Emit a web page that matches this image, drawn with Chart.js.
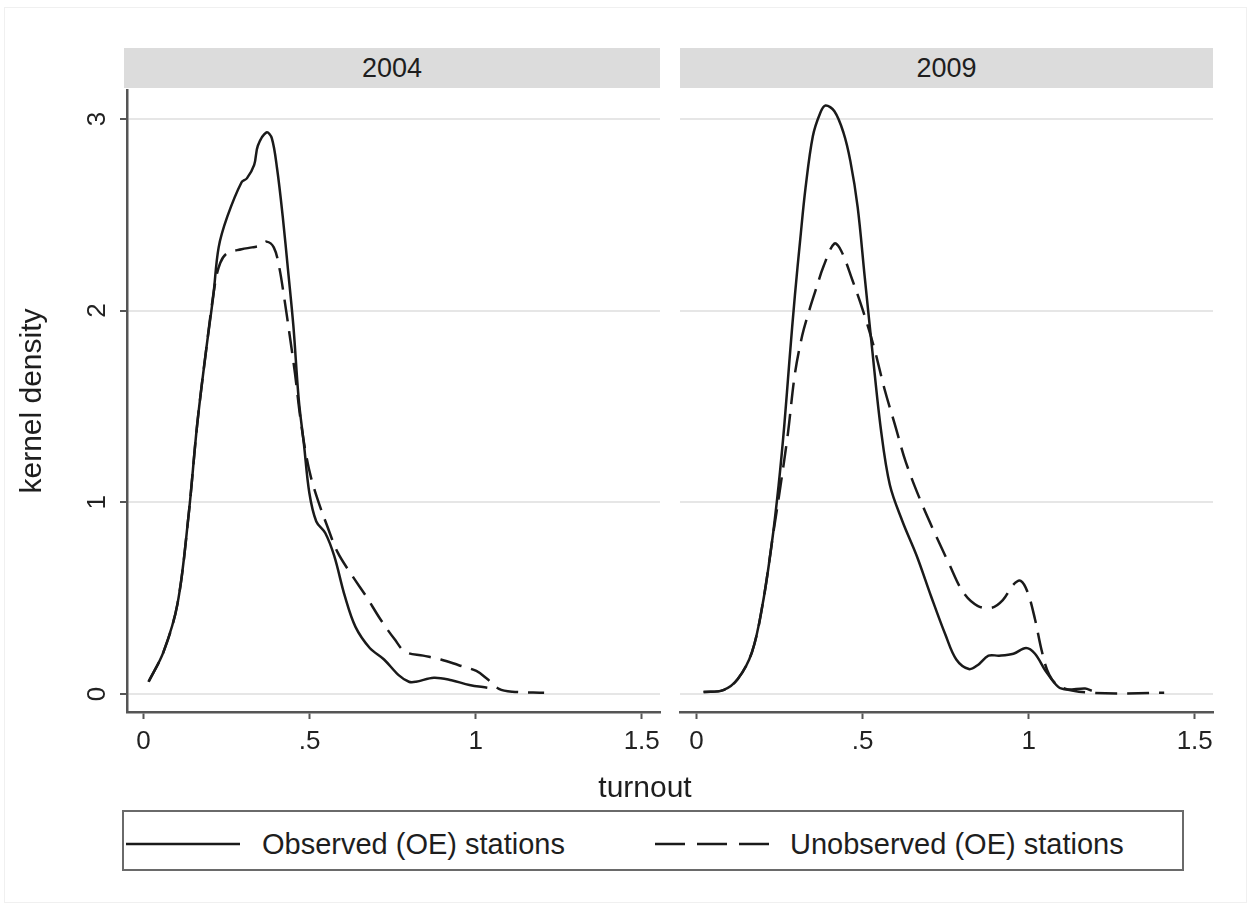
<!DOCTYPE html>
<html><head><meta charset="utf-8">
<script src="https://cdn.jsdelivr.net/npm/chart.js@4.4.1/dist/chart.umd.min.js"></script>
<style>
body{margin:0;background:#fff;width:1252px;height:909px;overflow:hidden;font-family:"Liberation Sans",Arial,Helvetica,sans-serif;color:#1e1e1e;position:relative}
.abs{position:absolute}
.frame{left:4px;top:7px;width:1243px;height:896px;border:1px solid #f0f0f0;box-sizing:border-box}
.strip{top:48px;height:40px;background:#dcdcdc;font-size:27px;line-height:41px;text-align:center}
.xt{left:0;width:1290px;top:768px;font-size:30px;text-align:center;line-height:38px}
.legend{left:122px;top:810px;width:1062px;height:61px;border:2px solid #6a6a6a;box-sizing:border-box}
.lt{font-size:29px;line-height:30px;top:17px}
</style></head>
<body>
<div class="abs frame"></div>
<div class="abs strip" style="left:124px;width:536px">2004</div>
<div class="abs strip" style="left:680px;width:533px">2009</div>
<div class="abs" style="left:0;top:80px;width:700px;height:700px"><canvas id="c1"></canvas></div>
<div class="abs" style="left:640px;top:80px;width:640px;height:700px"><canvas id="c2"></canvas></div>
<div class="abs xt" id="xtitle">turnout</div>
<div class="abs legend">
  <svg class="abs" style="left:2px;top:29px" width="116" height="6"><line x1="0" y1="3" x2="114" y2="3" stroke="#1a1a1a" stroke-width="2.5"/></svg>
  <div class="abs lt" style="left:138px">Observed (OE) stations</div>
  <svg class="abs" style="left:531px;top:29px" width="120" height="6"><line x1="0" y1="3" x2="118" y2="3" stroke="#1a1a1a" stroke-width="2.5" stroke-dasharray="30,12"/></svg>
  <div class="abs lt" style="left:666px">Unobserved (OE) stations</div>
</div>
<script>
// ---- data ----
const panels = ["2004", "2009"];
const seriesNames = ["Observed (OE) stations", "Unobserved (OE) stations"];
const xTicks = [0, 0.5, 1, 1.5];
const xTickLabels = ["0", ".5", "1", "1.5"];
const yTicks = [0, 1, 2, 3];

const obs2004X = [0.015,0.06,0.102,0.135,0.161,0.188,0.21,0.226,0.252,0.295,0.311,0.333,0.344,0.37,0.386,0.402,0.419,0.435,0.451,0.467,0.483,0.499,0.52,0.547,0.574,0.606,0.638,0.681,0.724,0.767,0.799,0.82,0.874,0.927,0.981,1.035];
const obs2004Y = [0.064,0.22,0.47,0.925,1.40,1.79,2.08,2.33,2.49,2.67,2.69,2.76,2.86,2.93,2.90,2.74,2.49,2.21,1.92,1.54,1.30,1.05,0.90,0.84,0.72,0.51,0.35,0.24,0.18,0.10,0.064,0.064,0.085,0.072,0.047,0.033];

const unobs2004X = [0.015,0.06,0.102,0.135,0.161,0.188,0.215,0.231,0.252,0.295,0.327,0.354,0.37,0.392,0.408,0.424,0.44,0.456,0.472,0.488,0.504,0.525,0.552,0.584,0.627,0.67,0.713,0.756,0.788,0.842,0.895,0.949,1.002,1.035,1.07,1.11,1.206];
const unobs2004Y = [0.064,0.22,0.47,0.925,1.40,1.79,2.14,2.25,2.30,2.32,2.33,2.34,2.36,2.33,2.23,2.06,1.87,1.67,1.44,1.26,1.13,1.01,0.88,0.74,0.62,0.51,0.39,0.285,0.22,0.20,0.18,0.15,0.12,0.078,0.027,0.012,0.006];

const obs2009X = [0.021,0.08,0.124,0.167,0.199,0.226,0.247,0.264,0.28,0.296,0.312,0.328,0.35,0.372,0.388,0.415,0.442,0.463,0.485,0.506,0.528,0.555,0.582,0.62,0.663,0.706,0.749,0.782,0.82,0.846,0.879,0.911,0.954,0.992,1.019,1.051,1.089,1.116,1.17,1.19];
const obs2009Y = [0.01,0.02,0.078,0.22,0.47,0.78,1.09,1.40,1.75,2.08,2.37,2.64,2.91,3.03,3.07,3.04,2.93,2.78,2.54,2.18,1.81,1.38,1.09,0.90,0.72,0.51,0.31,0.18,0.13,0.15,0.20,0.20,0.21,0.24,0.21,0.12,0.037,0.023,0.029,0.017];

const unobs2009X = [0.021,0.08,0.124,0.167,0.199,0.231,0.253,0.275,0.296,0.318,0.339,0.361,0.382,0.415,0.436,0.469,0.501,0.534,0.566,0.598,0.63,0.674,0.717,0.76,0.803,0.846,0.889,0.922,0.954,0.976,0.997,1.019,1.04,1.062,1.095,1.19,1.408];
const unobs2009Y = [0.01,0.02,0.078,0.22,0.47,0.84,1.09,1.36,1.67,1.87,2.00,2.12,2.23,2.35,2.31,2.16,2.00,1.81,1.59,1.40,1.21,1.01,0.84,0.68,0.53,0.46,0.45,0.49,0.57,0.59,0.53,0.39,0.22,0.10,0.037,0.006,0.006];

// ---- chart construction ----
const zip = (xs, ys) => xs.map((x, i) => ({x, y: ys[i]}));
const FONT = "'Liberation Sans', Arial, Helvetica, sans-serif";
const INK = '#1a1a1a';

function makeChart(id, obsX, obsY, unX, unY, isLeft) {
  const ds = (name, xs, ys, dash) => ({
    label: name, data: zip(xs, ys), borderColor: INK, borderWidth: 2.5,
    borderDash: dash, pointRadius: 0, tension: 0.35, fill: false
  });
  const noPad = s => { s.paddingTop = 0; s.paddingBottom = 0; s.paddingLeft = 0; s.paddingRight = 0; };
  return new Chart(document.getElementById(id), {
    type: 'line',
    data: { datasets: [ds(seriesNames[0], obsX, obsY, []), ds(seriesNames[1], unX, unY, [22, 10])] },
    options: {
      responsive: true, maintainAspectRatio: false, animation: false,
      layout: { padding: { left: isLeft ? 0 : 40, right: isLeft ? 40 : 67, top: 10, bottom: 0 } },
      plugins: { legend: { display: false }, tooltip: { enabled: false } },
      scales: {
        x: {
          type: 'linear', min: -0.05, max: 1.555,
          afterBuildTicks: s => { s.ticks = xTicks.map(v => ({value: v})); },
          afterFit: s => { s.height = 68; noPad(s); },
          ticks: { callback: (v) => xTickLabels[xTicks.indexOf(v)] ?? '', font: { family: FONT, size: 26 }, color: '#222', padding: 7, maxRotation: 0, autoSkip: false },
          grid: { drawOnChartArea: false, drawTicks: true, tickLength: 7, tickColor: '#555', tickWidth: 2 },
          border: { display: true, color: '#555', width: 2.5 }
        },
        y: {
          type: 'linear', min: -0.094, max: 3.151,
          afterBuildTicks: s => { s.ticks = yTicks.map(v => ({value: v})); },
          afterFit: s => { s.width = isLeft ? 127 : 0; noPad(s); },
          ticks: { display: isLeft, font: { family: FONT, size: 26 }, color: '#222', padding: 15, minRotation: 90, maxRotation: 90, crossAlign: 'center' },
          grid: { color: '#e6e6e6', lineWidth: 2, drawTicks: isLeft, tickLength: 7, tickColor: '#555', tickWidth: 2 },
          border: { display: isLeft, color: '#555', width: 2.5 },
          title: { display: isLeft, text: 'kernel density', font: { family: FONT, size: 30 }, color: '#1e1e1e', padding: { top: 15 } }
        }
      }
    }
  });
}
makeChart('c1', obs2004X, obs2004Y, unobs2004X, unobs2004Y, true);
makeChart('c2', obs2009X, obs2009Y, unobs2009X, unobs2009Y, false);
</script>
</body></html>
